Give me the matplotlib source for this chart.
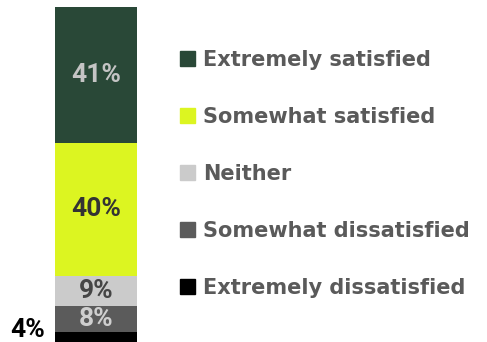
import matplotlib
matplotlib.use("Agg")
import matplotlib.pyplot as plt
from matplotlib.patches import Patch

# data (bottom to top)
categories = ["Extremely dissatisfied", "Somewhat dissatisfied", "Neither",
              "Somewhat satisfied", "Extremely satisfied"]
values = [4, 8, 9, 40, 41]
colors = ["#000000", "#5b5b5b", "#cbcbcb", "#dcf521", "#294837"]
label_colors = ["#000000", "#cfcfcf", "#454545", "#333333", "#c4c4c4"]

plt.rcParams["font.family"] = ["Roboto", "DejaVu Sans"]

fig = plt.figure(figsize=(4.87, 3.42), dpi=100)
ax = fig.add_axes([0, 0, 1, 1])

bottom = 0
for cat, v, c, lc in zip(categories, values, colors, label_colors):
    ax.bar(0, v, width=1, bottom=bottom, color=c, label=cat)
    mid = bottom + v / 2
    if v < 5:
        ax.text(-0.62, mid + 2.6, f"{v}%", ha="right", va="center",
                fontsize=19, fontweight="bold", color=lc)
    else:
        ax.text(0, mid, f"{v}%", ha="center", va="center",
                fontsize=19, fontweight="bold", color=lc)
    bottom += v

ax.set_xlim(-1.171, 4.768)
ax.set_ylim(1.0, 104.1)
ax.axis("off")

handles = [Patch(color=c) for c in colors][::-1]
leg = ax.legend(handles, categories[::-1], loc="center left",
                bbox_to_anchor=(0.3696, 0.492), frameon=False,
                prop={"family": "DejaVu Sans", "size": 15, "weight": "bold"},
                handlelength=0.72, handleheight=0.72, handletextpad=0.38,
                labelspacing=1.78, borderaxespad=0, borderpad=0)
for t in leg.get_texts():
    t.set_color("#5a5a5a")

fig.savefig("out.png", dpi=100)
